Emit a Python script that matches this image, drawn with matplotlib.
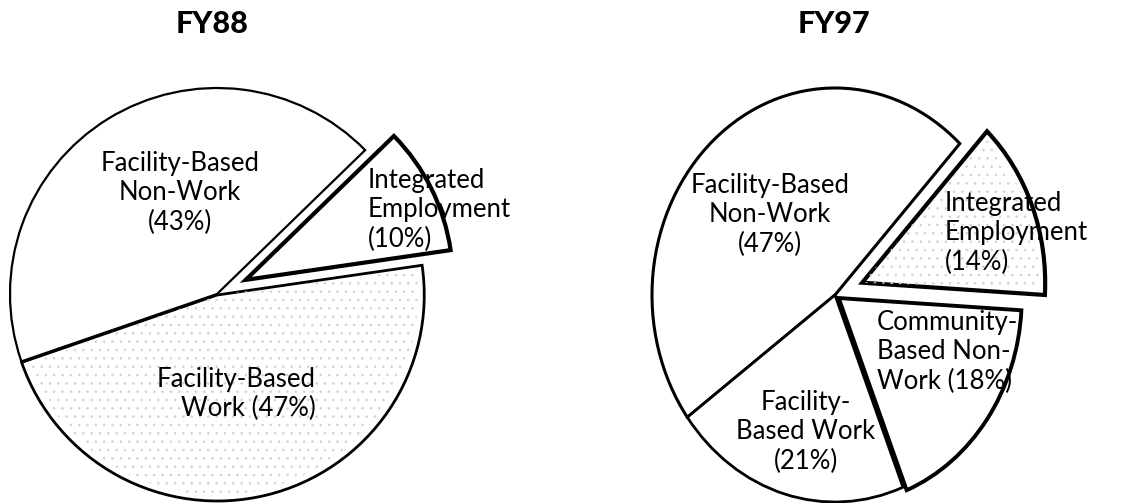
import matplotlib.pyplot as plt
from matplotlib.patches import Wedge

W, H = 1136, 503

# data
fy88_labels = ['Integrated\nEmployment\n(10%)',
               'Facility-Based\nNon-Work\n(43%)',
               'Facility-Based\nWork (47%)']
fy88_values = [10, 43, 47]

fy97_labels = ['Integrated\nEmployment\n(14%)',
               'Facility-Based\nNon-Work\n(47%)',
               'Facility-\nBased Work\n(21%)',
               'Community-\nBased Non-\nWork (18%)']
fy97_values = [14, 47, 21, 18]

plt.rcParams['font.family'] = ['Lato', 'DejaVu Sans']
plt.rcParams['hatch.linewidth'] = 0.6

fig = plt.figure(figsize=(W / 100, H / 100), dpi=100)
fig.patch.set_facecolor('white')

L = 1.6  # axes half-range in pie radii


def pie_axes(cx, cy, rx, ry):
    # cx, cy in image pixels (y from top), rx/ry pie radius in pixels
    w, h = 2 * L * rx, 2 * L * ry
    left = (cx - w / 2) / W
    bottom = (H - cy - h / 2) / H
    ax = fig.add_axes([left, bottom, w / W, h / H])
    return ax


def draw_pie(ax, values, start, explode, lws, stipple):
    wedges, _ = ax.pie(values, startangle=start, counterclock=True,
                       explode=explode,
                       wedgeprops=dict(facecolor='white', edgecolor='black'))
    for w, lw in zip(wedges, lws):
        w.set_linewidth(lw)
        w.set_joinstyle('miter')
    for i in stipple:
        w = wedges[i]
        ax.add_patch(Wedge(w.center, w.r * 0.97, w.theta1 + 1, w.theta2 - 1,
                           facecolor='none', edgecolor='#d2d2d2',
                           hatch='..', linewidth=0, zorder=1.5))
    ax.set_aspect('auto')
    ax.set_xlim(-L, L)
    ax.set_ylim(-L, L)
    ax.axis('off')
    return wedges


ax1 = pie_axes(217, 294, 207, 206)
draw_pie(ax1, fy88_values, 8.3, [0.155, 0, 0.005], [3.0, 1.6, 2.0], [2])

ax2 = pie_axes(835, 295, 183, 207)
draw_pie(ax2, fy97_values, -3.4, [0.16, 0, 0, 0.025], [3.0, 2.2, 2.0, 2.8], [0])


def label(x, y, s, ha='center'):
    fig.text(x / W, 1 - y / H, s, ha=ha, va='center', multialignment=ha,
             fontsize=18.5, linespacing=1.22, color='black')


# FY88 labels
label(368, 210, fy88_labels[0], ha='left')
label(180, 193, fy88_labels[1])
label(316, 394, fy88_labels[2], ha='right')

# FY97 labels
label(945, 233, fy97_labels[0], ha='left')
label(770, 215, fy97_labels[1])
label(806, 432, fy97_labels[2])
label(877, 352, fy97_labels[3], ha='left')

fig.text(212 / W, 1 - 24 / H, 'FY88', ha='center', va='center',
         fontsize=22, fontweight='black')
fig.text(834 / W, 1 - 24 / H, 'FY97', ha='center', va='center',
         fontsize=22, fontweight='black')

fig.savefig('out.png', dpi=100)
